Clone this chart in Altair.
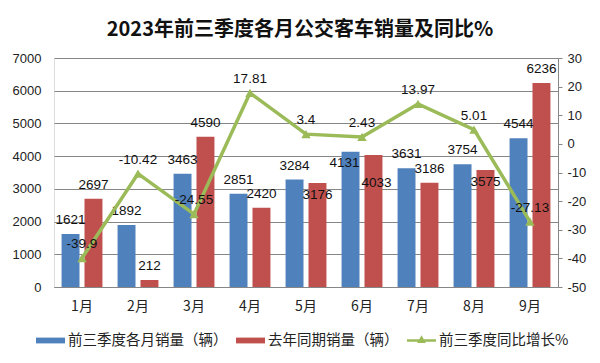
import altair as alt
import pandas as pd

months = ["1月", "2月", "3月", "4月", "5月", "6月", "7月", "8月", "9月"]
sales_2023 = [1621, 1892, 3463, 2851, 3284, 4131, 3631, 3754, 4544]
sales_2022 = [2697, 212, 4590, 2420, 3176, 4033, 3186, 3575, 6236]
yoy_pct = [-39.9, -10.42, -24.55, 17.81, 3.4, 2.43, 13.97, 5.01, -27.13]

series_names = ["前三季度各月销量（辆）", "去年同期销量（辆）", "前三季度同比增长%"]
series_colors = ["#4F81BD", "#C0504D", "#9BBB59"]

NUM_FONT = "Liberation Sans"
CJK_FONT = "Noto Sans CJK SC"
GRID = "#868686"

LEFT_DOMAIN = [0, 7000]
RIGHT_DOMAIN = [-50, 30]

rows = []
for m, a, b, p in zip(months, sales_2023, sales_2022, yoy_pct):
    # Excel-like label placement: a blue label that would sit on the line goes inside its bar
    line_equiv = (p - RIGHT_DOMAIN[0]) / (RIGHT_DOMAIN[1] - RIGHT_DOMAIN[0]) * LEFT_DOMAIN[1]
    blue_inside = abs(line_equiv - (a + 430)) < 400
    red_inside = 0 <= a - b <= 300
    rows.append({"month": m, "series": series_names[0], "value": a, "hex": series_colors[0],
                 "order": 0, "label": str(a), "pos": "inside_left" if blue_inside else "above"})
    rows.append({"month": m, "series": series_names[1], "value": b, "hex": series_colors[1],
                 "order": 1, "label": str(b),
                 "pos": ("inside_low" if blue_inside else "inside") if red_inside else "above"})
bars_df = pd.DataFrame(rows)
line_df = pd.DataFrame({"month": months, "yoy": yoy_pct, "label": [str(v) for v in yoy_pct]})
legend_df = pd.DataFrame({"series": series_names})

x_enc = alt.X(
    "month:N",
    sort=months,
    scale=alt.Scale(paddingInner=0.27, paddingOuter=0.135),
    axis=alt.Axis(
        title=None, labelAngle=0, ticks=False, domainColor=GRID,
        labelFont=CJK_FONT, labelFontSize=14, labelColor="#222", labelPadding=12,
    ),
)
xoff = alt.XOffset("order:O", scale=alt.Scale(paddingInner=0.217, paddingOuter=0))

y_left = alt.Y(
    "value:Q",
    scale=alt.Scale(domain=LEFT_DOMAIN, nice=False),
    axis=alt.Axis(
        title=None, values=list(range(0, 7001, 1000)), labelExpr="'' + datum.value",
        labelOverlap=False, domain=False, ticks=False,
        gridColor=GRID, gridWidth=1, gridOpacity=1, labelFont=NUM_FONT, labelFontSize=13,
        labelColor="#222", labelPadding=13,
    ),
)

bars = alt.Chart(bars_df).mark_bar().encode(
    x=x_enc, xOffset=xoff, y=y_left,
    color=alt.Color("hex:N", scale=None),
)


def bar_labels(pos, dx, dy):
    return alt.Chart(bars_df).transform_filter(f"datum.pos == '{pos}'").mark_text(
        font=NUM_FONT, fontSize=13.5, color="#111", baseline="middle", dx=dx, dy=dy
    ).encode(x=x_enc, xOffset=xoff, y=y_left, text=alt.Text("label:N"))


left = alt.layer(
    bars,
    bar_labels("above", 0, -14),
    bar_labels("inside", 0, 12),
    bar_labels("inside_left", -6, 11),
    bar_labels("inside_low", 3, 28),
)

y_right = alt.Y(
    "yoy:Q",
    scale=alt.Scale(domain=RIGHT_DOMAIN, nice=False),
    axis=alt.Axis(
        title=None, orient="right", values=list(range(-50, 31, 10)), grid=False,
        labelExpr="'' + datum.value", labelOverlap=False,
        domainColor=GRID, tickColor=GRID, tickSize=4,
        labelFont=NUM_FONT, labelFontSize=13, labelColor="#222", labelPadding=5,
    ),
)
line = alt.Chart(line_df).mark_line(
    color=series_colors[2], strokeWidth=3.5,
    point=alt.OverlayMarkDef(shape="triangle-up", size=90, filled=True, color=series_colors[2]),
).encode(x=x_enc, y=y_right)
line_text = alt.Chart(line_df).mark_text(
    font=NUM_FONT, fontSize=13.5, color="#111", baseline="middle", dy=-14
).encode(
    x=x_enc, y=y_right,
    text=alt.Text("label:N"),
)
right = alt.layer(line, line_text)

rect_path = "M-1,-0.2 H1 V0.2 H-1 Z"
line_path = "M-1,-0.09 H1 V0.09 H-1 Z M-0.3,0.18 L0,-0.36 L0.3,0.18 Z"
legend_props = dict(
    title=None, orient="none", legendX=-18, legendY=268, direction="horizontal",
    symbolSize=841, symbolStrokeWidth=0, labelFont=CJK_FONT, labelFontSize=14.5,
    labelColor="#222", labelOffset=3, columnPadding=8,
)
legend_layer = alt.Chart(legend_df).mark_point(filled=True, clip=True, opacity=1).encode(
    x=alt.value(-200), y=alt.value(-200),
    color=alt.Color("series:N", sort=series_names,
                    scale=alt.Scale(domain=series_names, range=series_colors),
                    legend=alt.Legend(**legend_props)),
    shape=alt.Shape("series:N", sort=series_names,
                    scale=alt.Scale(domain=series_names, range=[rect_path, rect_path, line_path]),
                    legend=alt.Legend(**legend_props)),
)

chart = alt.layer(left, right, legend_layer).resolve_scale(y="independent").properties(
    width=504, height=229,
    title=alt.TitleParams(
        "2023年前三季度各月公交客车销量及同比%", font=CJK_FONT, fontSize=20,
        fontWeight="bold", color="#111", anchor="middle", offset=12, dx=-6,
    ),
    autosize=alt.AutoSizeParams(type="none"),
    padding={"left": 46, "top": 50, "right": 34, "bottom": 68},
).configure_view(strokeOpacity=0).configure(background="white")

chart.save("out.html", embed_options={"renderer": "svg", "actions": False})
